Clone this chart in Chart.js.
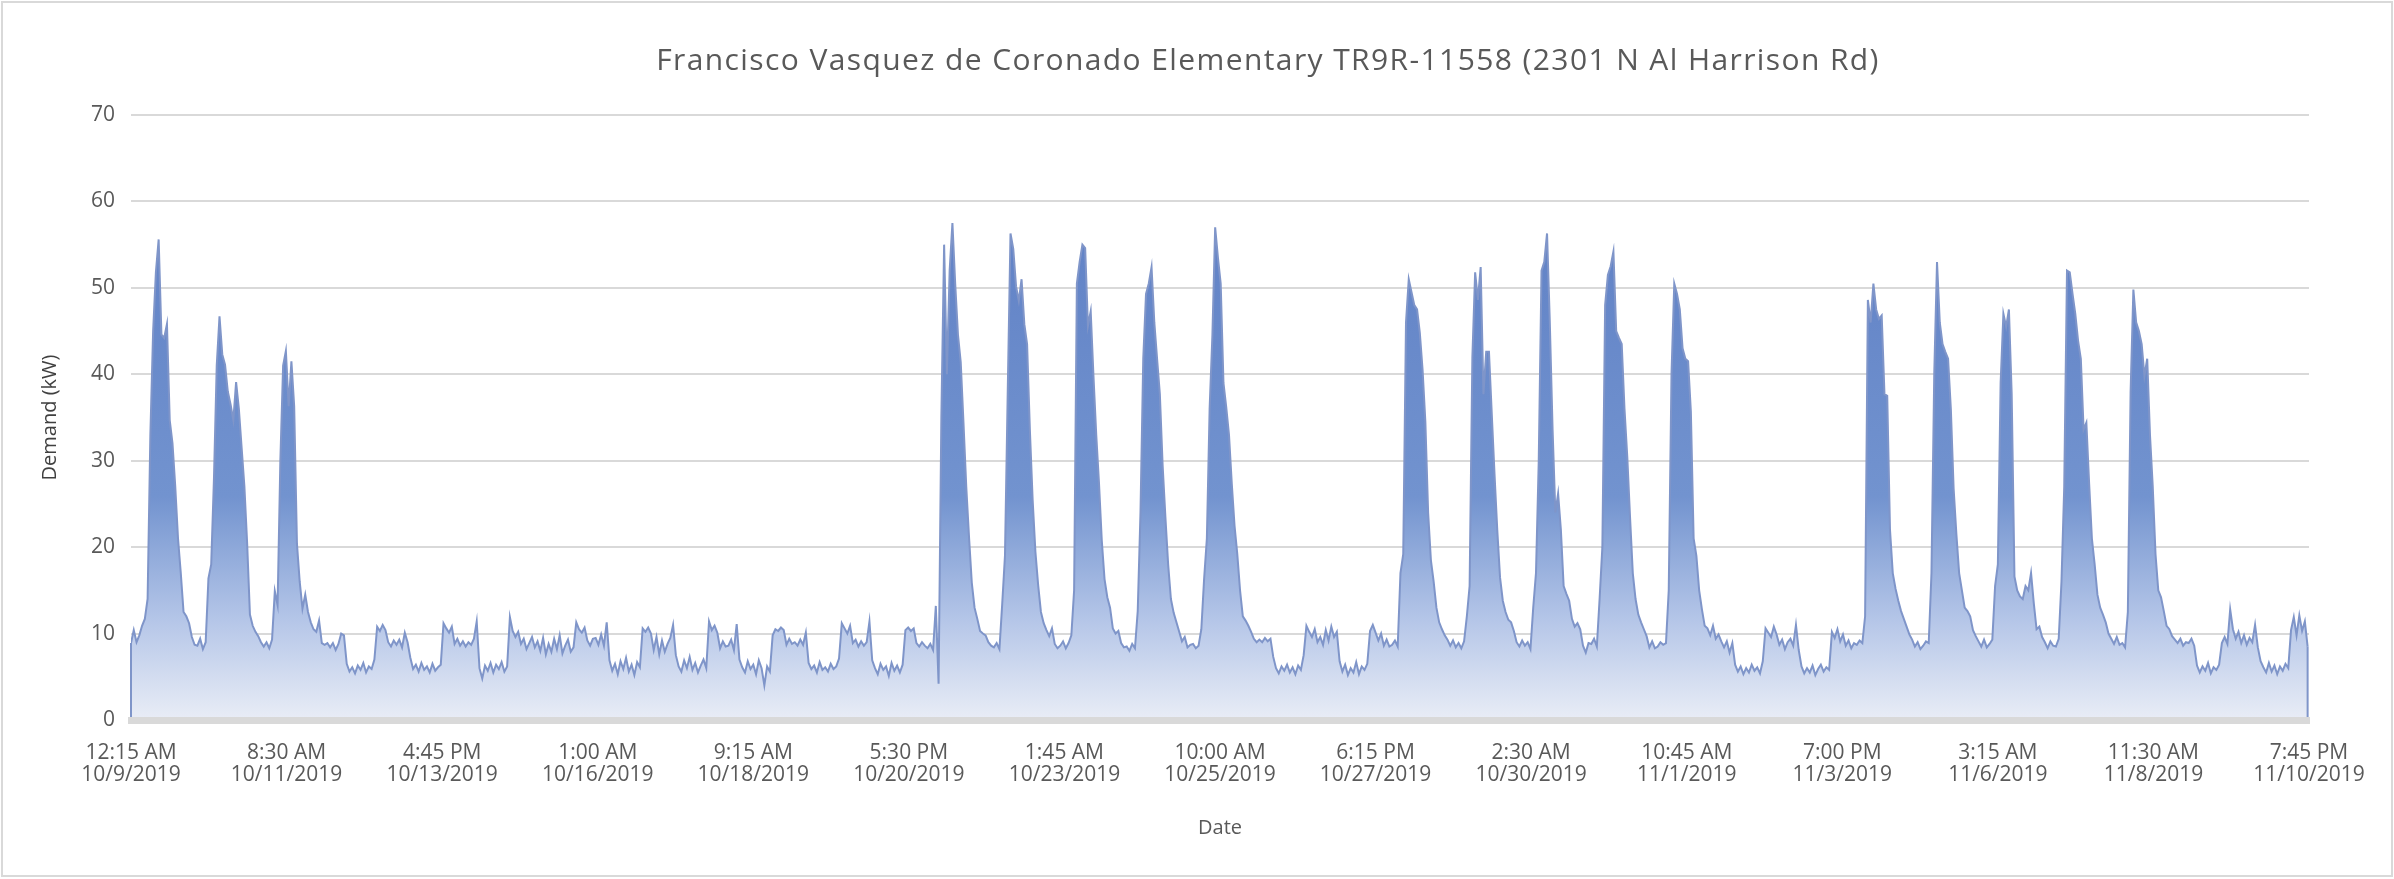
<!DOCTYPE html>
<html>
<head>
<meta charset="utf-8">
<script src="https://cdn.jsdelivr.net/npm/chart.js@4.4.0/dist/chart.umd.min.js"></script>
<style>
  html, body { margin: 0; padding: 0; background: #fff; }
  #frame { position: absolute; left: 1px; top: 1px; width: 2388px; height: 872px; border: 2px solid #d9d9d9; }
  #wrap { position: absolute; left: 0; top: 0; width: 2394px; height: 879px; }
</style>
</head>
<body>
<div id="frame"></div>
<div id="wrap"><canvas id="demand"></canvas></div>
<script>
// hourly demand readings (kW), one array per day, first reading at 12:15 AM
var oct09 = [8.9, 10.4, 9.0, 9.8, 10.9, 11.7, 14.0, 33.0, 45.0, 51.8, 55.6, 44.6, 44.2, 45.8, 34.7, 32.0, 27.0, 21.0, 17.0, 12.5, 12.0, 11.2, 9.6, 8.7];
var oct10 = [8.6, 9.4, 8.2, 9.0, 16.4, 18.0, 28.0, 41.0, 46.7, 42.3, 41.1, 38.0, 36.5, 34.7, 39.1, 36.0, 31.5, 27.0, 20.4, 12.2, 10.9, 10.2, 9.7, 9.0];
var oct11 = [8.5, 9.0, 8.3, 9.3, 14.9, 13.3, 30.0, 41.0, 42.7, 36.3, 41.5, 36.3, 20.4, 16.0, 12.9, 14.5, 12.5, 11.3, 10.5, 10.2, 11.5, 8.9, 8.7, 8.9];
var oct12 = [8.4, 8.9, 8.1, 8.8, 10.0, 9.8, 6.5, 5.6, 6.1, 5.4, 6.3, 5.8, 6.6, 5.5, 6.2, 5.9, 7.0, 10.8, 10.3, 11.0, 10.4, 9.0, 8.5, 9.2];
var oct13 = [8.7, 9.3, 8.4, 10.1, 9.0, 7.2, 5.9, 6.4, 5.6, 6.6, 5.8, 6.2, 5.5, 6.5, 5.7, 6.1, 6.4, 11.2, 10.6, 10.1, 10.8, 8.8, 9.4, 8.6];
var oct14 = [9.1, 8.5, 9.0, 8.7, 9.4, 11.4, 6.0, 4.8, 6.3, 5.7, 6.6, 5.5, 6.4, 5.9, 6.7, 5.6, 6.2, 11.9, 10.3, 9.6, 10.2, 8.8, 9.4, 8.2];
var oct15 = [8.9, 9.6, 8.4, 9.1, 8.0, 9.5, 7.6, 8.8, 7.9, 9.4, 8.2, 9.8, 7.7, 8.6, 9.3, 7.9, 8.4, 11.3, 10.5, 10.1, 10.7, 9.2, 8.6, 9.4];
var oct16 = [9.5, 8.7, 9.9, 8.6, 11.3, 6.9, 5.7, 6.5, 5.3, 6.8, 5.9, 7.2, 5.6, 6.4, 5.2, 6.7, 6.1, 10.6, 10.2, 10.7, 10.0, 8.1, 9.6, 7.6];
var oct17 = [9.2, 7.9, 8.8, 9.5, 11.0, 7.5, 6.2, 5.6, 6.9, 6.0, 7.3, 5.8, 6.6, 5.5, 6.3, 7.0, 6.0, 11.4, 10.4, 10.9, 10.1, 8.3, 9.1, 8.5];
var oct18 = [8.6, 9.3, 8.1, 11.1, 7.0, 6.1, 5.5, 6.8, 5.9, 6.4, 5.3, 6.9, 6.0, 4.0, 6.2, 5.6, 9.8, 10.5, 10.3, 10.7, 10.4, 8.7, 9.4, 8.8];
var oct19 = [9.0, 8.6, 9.3, 8.7, 10.1, 6.6, 5.9, 6.3, 5.5, 6.7, 5.8, 6.1, 5.6, 6.5, 5.9, 6.2, 7.1, 11.2, 10.6, 10.0, 10.9, 8.9, 9.3, 8.5];
var oct20 = [9.1, 8.6, 9.0, 11.4, 6.9, 6.0, 5.3, 6.5, 5.8, 6.2, 5.1, 6.6, 5.7, 6.3, 5.5, 6.4, 10.4, 10.7, 10.3, 10.6, 8.9, 8.5, 9.0, 8.6];
var oct21 = [8.3, 8.8, 8.1, 13.2, 4.2, 35.0, 55.0, 40.0, 52.0, 57.5, 50.5, 44.6, 41.4, 34.4, 27.0, 21.2, 15.9, 13.0, 11.7, 10.3, 10.0, 9.8, 9.0, 8.6];
var oct22 = [8.4, 8.9, 8.2, 13.4, 19.0, 38.0, 56.3, 54.5, 50.2, 48.5, 51.0, 45.8, 43.5, 33.6, 25.5, 19.5, 15.6, 12.5, 11.2, 10.4, 9.7, 10.6, 8.8, 8.3];
var oct23 = [8.6, 9.1, 8.3, 8.9, 9.8, 15.0, 50.5, 53.0, 55.0, 54.6, 45.6, 47.3, 39.8, 33.0, 27.4, 20.8, 16.3, 14.2, 13.0, 10.6, 10.0, 10.3, 8.9, 8.4];
var oct24 = [8.5, 8.0, 8.8, 8.3, 12.6, 24.0, 41.8, 49.3, 50.5, 52.4, 46.0, 41.8, 37.7, 29.5, 23.5, 18.0, 14.0, 12.4, 11.3, 10.2, 9.1, 9.6, 8.4, 8.7];
var oct25 = [8.8, 8.3, 8.6, 10.5, 16.3, 21.0, 36.0, 44.5, 57.0, 53.5, 50.5, 39.0, 36.2, 33.0, 27.4, 22.5, 19.2, 15.0, 12.0, 11.5, 10.9, 10.2, 9.4, 9.0];
var oct26 = [9.3, 9.0, 9.5, 9.1, 9.4, 7.3, 6.0, 5.4, 6.2, 5.7, 6.4, 5.5, 6.1, 5.3, 6.3, 5.8, 7.5, 10.9, 10.2, 9.6, 10.5, 9.0, 9.6, 8.7];
var oct27 = [10.4, 9.2, 10.8, 9.6, 10.2, 6.8, 5.6, 6.4, 5.2, 6.0, 5.5, 6.7, 5.3, 6.2, 5.8, 6.5, 10.3, 11.0, 10.1, 9.2, 10.0, 8.6, 9.3, 8.5];
var oct28 = [8.7, 9.2, 8.5, 17.0, 19.2, 46.0, 51.0, 49.5, 48.0, 47.5, 44.8, 40.5, 34.5, 24.0, 18.5, 16.0, 13.0, 11.3, 10.5, 9.8, 9.3, 8.6, 9.2, 8.4];
var oct29 = [8.9, 8.3, 9.1, 12.0, 15.5, 42.0, 51.8, 48.6, 52.4, 37.7, 42.6, 42.6, 35.5, 28.5, 22.0, 16.5, 13.8, 12.5, 11.6, 11.3, 10.3, 9.0, 8.5, 9.2];
var oct30 = [8.6, 9.0, 8.2, 13.0, 17.0, 30.0, 52.0, 53.0, 56.3, 46.0, 33.6, 24.0, 26.2, 22.0, 15.5, 14.6, 13.8, 11.7, 10.8, 11.2, 10.5, 8.6, 7.8, 8.9];
var oct31 = [8.8, 9.4, 8.5, 14.0, 20.0, 48.0, 51.5, 52.5, 54.2, 45.0, 44.2, 43.5, 36.0, 30.5, 23.5, 17.0, 14.0, 12.2, 11.3, 10.5, 9.7, 8.4, 9.1, 8.3];
var nov01 = [8.5, 9.0, 8.7, 8.9, 15.0, 40.0, 50.5, 49.3, 47.5, 43.0, 41.8, 41.5, 35.7, 21.0, 19.0, 15.0, 12.8, 10.9, 10.6, 9.8, 10.9, 9.4, 9.9, 9.1];
var nov02 = [8.4, 9.1, 7.8, 8.9, 6.4, 5.6, 6.2, 5.3, 6.0, 5.5, 6.4, 5.7, 6.1, 5.4, 6.8, 10.6, 10.1, 9.6, 10.8, 9.9, 8.7, 9.3, 8.2, 9.0];
var nov03 = [9.4, 8.6, 11.0, 8.1, 6.2, 5.4, 6.0, 5.5, 6.3, 5.2, 5.9, 6.4, 5.6, 6.1, 5.8, 10.2, 9.5, 10.5, 9.1, 9.9, 8.6, 9.2, 8.3, 8.9];
var nov04 = [8.7, 9.2, 8.9, 12.0, 48.6, 46.0, 50.5, 47.5, 46.4, 46.8, 37.7, 37.5, 22.0, 17.0, 15.2, 13.8, 12.6, 11.7, 10.8, 9.9, 9.3, 8.5, 9.0, 8.2];
var nov05 = [8.6, 9.1, 8.9, 17.0, 40.0, 53.0, 46.0, 43.5, 42.6, 41.8, 36.0, 26.8, 21.5, 17.0, 15.0, 13.0, 12.6, 12.0, 10.4, 9.7, 9.1, 8.5, 9.3, 8.4];
var nov06 = [8.8, 9.3, 15.5, 18.0, 39.0, 47.0, 45.5, 47.5, 37.7, 16.6, 15.0, 14.3, 14.0, 15.5, 15.0, 17.0, 13.5, 10.5, 10.8, 9.6, 9.0, 8.3, 9.1, 8.6];
var nov07 = [8.5, 9.4, 16.0, 27.0, 52.0, 51.8, 49.3, 47.0, 43.9, 41.8, 33.6, 34.4, 27.4, 21.0, 18.0, 14.5, 13.0, 12.2, 11.3, 10.0, 9.4, 8.8, 9.6, 8.7];
var nov08 = [8.9, 8.4, 12.5, 38.0, 49.8, 46.0, 45.0, 43.5, 39.8, 41.8, 33.0, 27.0, 19.2, 15.0, 14.2, 12.6, 10.9, 10.5, 9.7, 9.3, 8.9, 9.4, 8.6, 9.0];
var nov09 = [8.9, 9.4, 8.6, 6.3, 5.5, 6.2, 5.7, 6.6, 5.4, 6.1, 5.8, 6.4, 8.9, 9.6, 8.8, 12.8, 10.5, 9.4, 10.2, 8.9, 9.8, 8.7, 9.5, 9.0];
var nov10 = [11.0, 8.4, 6.8, 6.1, 5.5, 6.6, 5.6, 6.3, 5.3, 6.2, 5.7, 6.5, 6.0, 10.4, 11.9, 9.8, 12.1, 10.3, 11.4, 8.5];

var demandByDay = [oct09, oct10, oct11, oct12, oct13, oct14, oct15, oct16, oct17, oct18, oct19, oct20,
    oct21, oct22, oct23, oct24, oct25, oct26, oct27, oct28, oct29, oct30, oct31,
    nov01, nov02, nov03, nov04, nov05, nov06, nov07, nov08, nov09, nov10];

// category labels Excel shows, one every 225 quarter-hours
var tickLabels = [
    ['12:15 AM', '10/9/2019'], ['8:30 AM', '10/11/2019'], ['4:45 PM', '10/13/2019'],
    ['1:00 AM', '10/16/2019'], ['9:15 AM', '10/18/2019'], ['5:30 PM', '10/20/2019'],
    ['1:45 AM', '10/23/2019'], ['10:00 AM', '10/25/2019'], ['6:15 PM', '10/27/2019'],
    ['2:30 AM', '10/30/2019'], ['10:45 AM', '11/1/2019'], ['7:00 PM', '11/3/2019'],
    ['3:15 AM', '11/6/2019'], ['11:30 AM', '11/8/2019'], ['7:45 PM', '11/10/2019']
];
var labelStep = 225;
var yTicks = [0, 10, 20, 30, 40, 50, 60, 70];

var chartTitle = 'Francisco Vasquez de Coronado Elementary TR9R-11558 (2301 N Al Harrison Rd)';
var lineColor = '#7f95c9';
var textColor = '#595959';
var font = '"Open Sans", "Noto Sans", sans-serif';

// x position in quarter-hours since 12:15 AM 10/9
var points = [];
demandByDay.forEach(function(day, d) {
    day.forEach(function(kw, h) {
        points.push({ x: d * 96 + h * 4, y: kw });
    });
});
var peak = Math.max.apply(null, points.map(function(p) { return p.y }));

var titlePlugin = {
    id: 'sheetTitle',
    afterDraw: function(chart) {
        var c = chart.ctx;
        c.save();
        c.font = '30px ' + font;
        c.letterSpacing = '1.4px';
        c.fillStyle = textColor;
        c.textAlign = 'center';
        c.textBaseline = 'middle';
        c.fillText(chartTitle, 1268, 61);
        c.restore();
    }
};

// closes the area on both ends like Excel does
var areaEdges = {
    id: 'areaEdges',
    afterDatasetsDraw: function(chart) {
        var pts = chart.getDatasetMeta(0).data;
        var y0 = chart.scales.y.getPixelForValue(0);
        var c = chart.ctx;
        c.save();
        c.strokeStyle = lineColor;
        c.lineWidth = 2;
        [pts[0], pts[pts.length - 1]].forEach(function(p) {
            c.beginPath();
            c.moveTo(p.x, p.y);
            c.lineTo(p.x, y0);
            c.stroke();
        });
        c.restore();
    }
};

new Chart(document.getElementById('demand').getContext('2d'), {
    type: 'line',
    data: {
        datasets: [{
            label: 'Demand (kW)',
            data: points,
            fill: 'origin',
            borderColor: lineColor,
            borderWidth: 2,
            pointRadius: 0,
            tension: 0,
            backgroundColor: function(ctx) {
                var chart = ctx.chart;
                if (!chart.chartArea) return 'rgba(100,130,200,0.5)';
                var y = chart.scales.y;
                var g = chart.ctx.createLinearGradient(0, y.getPixelForValue(peak), 0, y.getPixelForValue(0));
                g.addColorStop(0, '#6182c6');
                g.addColorStop(0.55, '#7293cf');
                g.addColorStop(0.8, '#b5c6e8');
                g.addColorStop(1, '#e9edf6');
                return g;
            }
        }]
    },
    options: {
        responsive: true,
        maintainAspectRatio: false,
        animation: false,
        layout: { padding: { top: 115, right: 85, left: 0, bottom: 0 } },
        plugins: {
            legend: { display: false },
            tooltip: { enabled: false }
        },
        scales: {
            x: {
                type: 'linear',
                min: 0,
                max: (tickLabels.length - 1) * labelStep,
                afterBuildTicks: function(scale) {
                    scale.ticks = tickLabels.map(function(_, i) { return { value: i * labelStep } });
                },
                afterFit: function(scale) { scale.height = 159; },
                ticks: {
                    autoSkip: false,
                    maxRotation: 0,
                    padding: 22,
                    color: textColor,
                    font: { family: font, size: 21, lineHeight: 1.05 },
                    callback: function(value) { return tickLabels[Math.round(value / labelStep)]; }
                },
                grid: { display: false, drawTicks: false },
                border: { display: true, color: '#d9d9d9', width: 7, z: 1 },
                title: {
                    display: true,
                    text: 'Date',
                    color: textColor,
                    font: { family: font, size: 20 },
                    padding: { top: 0, bottom: 39 }
                }
            },
            y: {
                min: 0,
                max: 70,
                afterBuildTicks: function(scale) {
                    scale.ticks = yTicks.map(function(v) { return { value: v } });
                },
                afterFit: function(scale) { scale.width = 131; },
                ticks: {
                    padding: 16,
                    color: textColor,
                    font: { family: font, size: 21 }
                },
                grid: { color: '#d9d9d9', lineWidth: 2, drawTicks: false },
                border: { display: false },
                title: {
                    display: true,
                    text: 'Demand (kW)',
                    color: '#404040',
                    font: { family: font, size: 20 },
                    padding: { top: 38, bottom: 0 }
                }
            }
        }
    },
    plugins: [titlePlugin, areaEdges]
});
</script>
</body>
</html>
